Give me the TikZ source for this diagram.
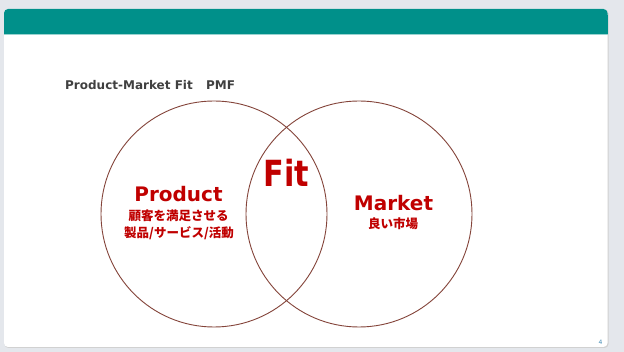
\documentclass[tikz,border=0pt]{standalone}
\usepackage{fontspec}
\setmainfont{DejaVu Sans}
\newfontfamily\cjk{Noto Sans CJK JP}
\definecolor{bgc}{HTML}{E4E7EC}
\definecolor{teal1}{HTML}{00908A}
\definecolor{redt}{HTML}{C00000}
\definecolor{circc}{HTML}{84443A}
\definecolor{titc}{HTML}{404040}
\definecolor{pgc}{HTML}{4A90B8}
\tikzset{
  circ/.style={draw=circc, line width=0.9pt, circle, inner sep=0pt, outer sep=0pt},
  bigred/.style={text=redt, font=\bfseries\fontsize{20}{22}\selectfont, inner sep=0pt, anchor=base},
  jpred/.style={text=redt, font=\cjk\bfseries\fontsize{12.5}{14}\selectfont, inner sep=0pt},
}
\begin{document}
\begin{tikzpicture}[x=1pt,y=-1pt]
\useasboundingbox (0,0) rectangle (624,352);
\fill[bgc] (0,0) rectangle (624,352);
% card
\fill[black!18, rounded corners=4pt] (4.5,9.5) rectangle (608.5,348);
\fill[white, rounded corners=4pt] (4,9) rectangle (607.5,347);
\fill[teal1, rounded corners=4pt] (4,9) rectangle (607.5,20);
\fill[teal1] (4,15) rectangle (607.5,34);
\draw[teal1!40, line width=0.6pt] (4,34.3) -- (607.5,34.3);
% title
\node[text=titc, font=\bfseries\fontsize{12}{14}\selectfont, anchor=base west, inner sep=0pt] (title) at (65,90) {Product-Market Fit\hspace{1.1em}PMF};
% circles
\node[circ, minimum size=226pt] (P) at (214,214) {};
\node[circ, minimum size=226pt] (M) at (359,214) {};
% texts
\node[bigred] (prod) at (178.5,202) {Product};
\node[jpred] (prodj1) at (178.5,215.5) {顧客を満足させる};
\node[jpred] (prodj2) at (179,233) {製品/サービス/活動};
\node[text=redt, font=\bfseries\fontsize{36}{40}\selectfont, inner sep=0pt, anchor=base] (fit) at (286.5,187) {\scalebox{0.84}[1]{Fit}};
\node[bigred] (mkt) at (393.5,210.5) {Market};
\node[jpred] (mktj) at (393,223.5) {良い市場};
% page number
\node[text=pgc, font=\fontsize{6}{7}\selectfont, inner sep=0pt] (pg) at (600.5,342) {4};
\end{tikzpicture}
\end{document}
